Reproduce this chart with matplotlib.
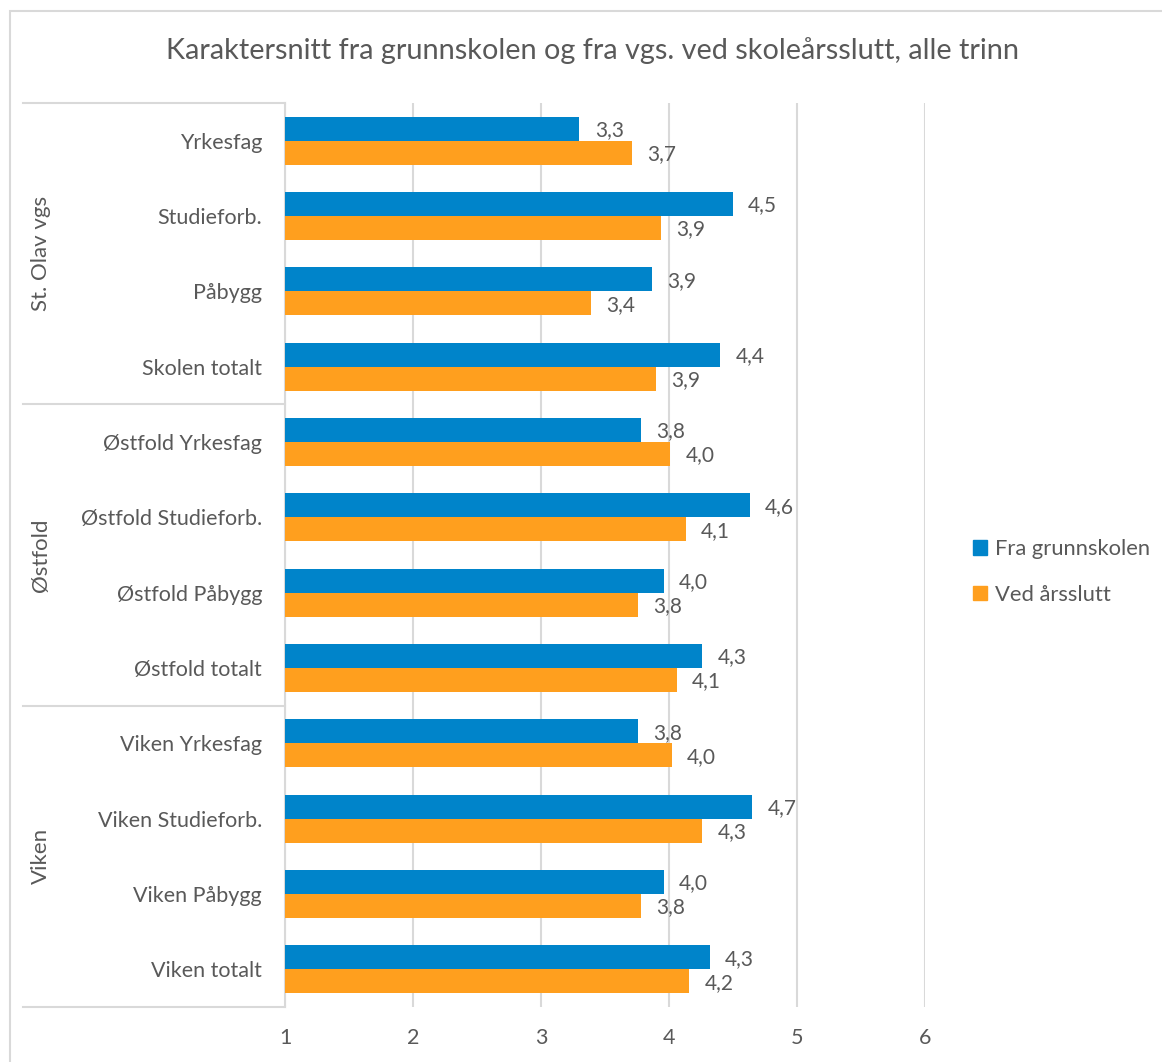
import matplotlib
matplotlib.use('Agg')
from matplotlib import pyplot as plt
from matplotlib.patches import Rectangle, Patch
import matplotlib.transforms as mtransforms
import numpy as np

plt.rcParams['font.family'] = ['Lato', 'DejaVu Sans']

# data
categories = ['Yrkesfag', 'Studieforb.', 'Påbygg', 'Skolen totalt',
              'Østfold Yrkesfag', 'Østfold Studieforb.', 'Østfold Påbygg', 'Østfold totalt',
              'Viken Yrkesfag', 'Viken Studieforb.', 'Viken Påbygg', 'Viken totalt']
groups = ['St. Olav vgs', 'Østfold', 'Viken']
fra_grunnskolen = [3.30, 4.50, 3.87, 4.40, 3.78, 4.63, 3.96, 4.26, 3.76, 4.65, 3.96, 4.32]
ved_arsslutt = [3.71, 3.94, 3.39, 3.90, 4.01, 4.13, 3.76, 4.06, 4.02, 4.26, 3.78, 4.16]
series_names = ['Fra grunnskolen', 'Ved årsslutt']
xticks = [1, 2, 3, 4, 5, 6]

blue = '#0084CA'
orange = '#FF9F1E'
grey_txt = '#595959'
grey_line = '#D9D9D9'

W, H = 1162, 1062
fig = plt.figure(figsize=(W / 100, H / 100), dpi=100)
ax = fig.add_axes([285 / W, 1 - 1007 / H, 640 / W, (1007 - 103) / H])

# rammen rundt figuren
fig.patches.append(Rectangle((10 / W, -0.1), 1.2, 1 - 11 / H + 0.1, transform=fig.transFigure,
                             fill=False, edgecolor=grey_line, lw=1.5))

y = np.arange(len(categories))
h = 0.32
ax.barh(y - h / 2, np.array(fra_grunnskolen) - 1, left=1, height=h, color=blue, zorder=3)
ax.barh(y + h / 2, np.array(ved_arsslutt) - 1, left=1, height=h, color=orange, zorder=3)

for i in range(len(categories)):
    for v, off in ((fra_grunnskolen[i], -h / 2), (ved_arsslutt[i], h / 2)):
        ax.annotate(f'{v:.1f}'.replace('.', ','), (v, i + off), xytext=(11, -1),
                    textcoords='offset points', ha='left', va='center',
                    fontsize=15, color=grey_txt)

ax.set_xlim(1, 6)
ax.set_ylim(len(categories) - 0.5, -0.5)
ax.set_xticks(xticks)
ax.set_xticklabels([str(t) for t in xticks])
ax.set_yticks(y)
ax.set_yticklabels(categories)
ax.tick_params(axis='both', length=0, labelsize=15.5, colors=grey_txt)
ax.tick_params(axis='y', pad=16.5)
ax.tick_params(axis='x', pad=15)
ax.grid(axis='x', color=grey_line, lw=1.5, zorder=0)
for s in ['top', 'right', 'bottom']:
    ax.spines[s].set_visible(False)
ax.spines['left'].set_color(grey_line)
ax.spines['left'].set_linewidth(1.5)

# gruppeskiller og gruppenavn
trans = mtransforms.blended_transform_factory(ax.transAxes, ax.transData)
x0 = (23 - 285) / 640
for b in [-0.5, 3.5, 7.5, 11.5]:
    ax.plot([x0, 0], [b, b], transform=trans, color=grey_line, lw=1.5, clip_on=False)
for k, g in enumerate(groups):
    ax.text((41 - 285) / 640, 4 * k + 1.5, g, transform=trans, rotation=90,
            ha='center', va='center', fontsize=16, color=grey_txt)

fig.text(592 / W, 1 - 51 / H, 'Karaktersnitt fra grunnskolen og fra vgs. ved skoleårsslutt, alle trinn',
         ha='center', va='center', fontsize=20.8, color=grey_txt)

handles = [Patch(color=blue), Patch(color=orange)]
fig.legend(handles, series_names, loc='center left', bbox_to_anchor=(953 / W, 1 - 572 / H),
           frameon=False, fontsize=15.8, labelcolor=grey_txt, handlelength=0.65, handleheight=0.65,
           handletextpad=0.35, labelspacing=1.15)

plt.savefig('out.png', dpi=100)
